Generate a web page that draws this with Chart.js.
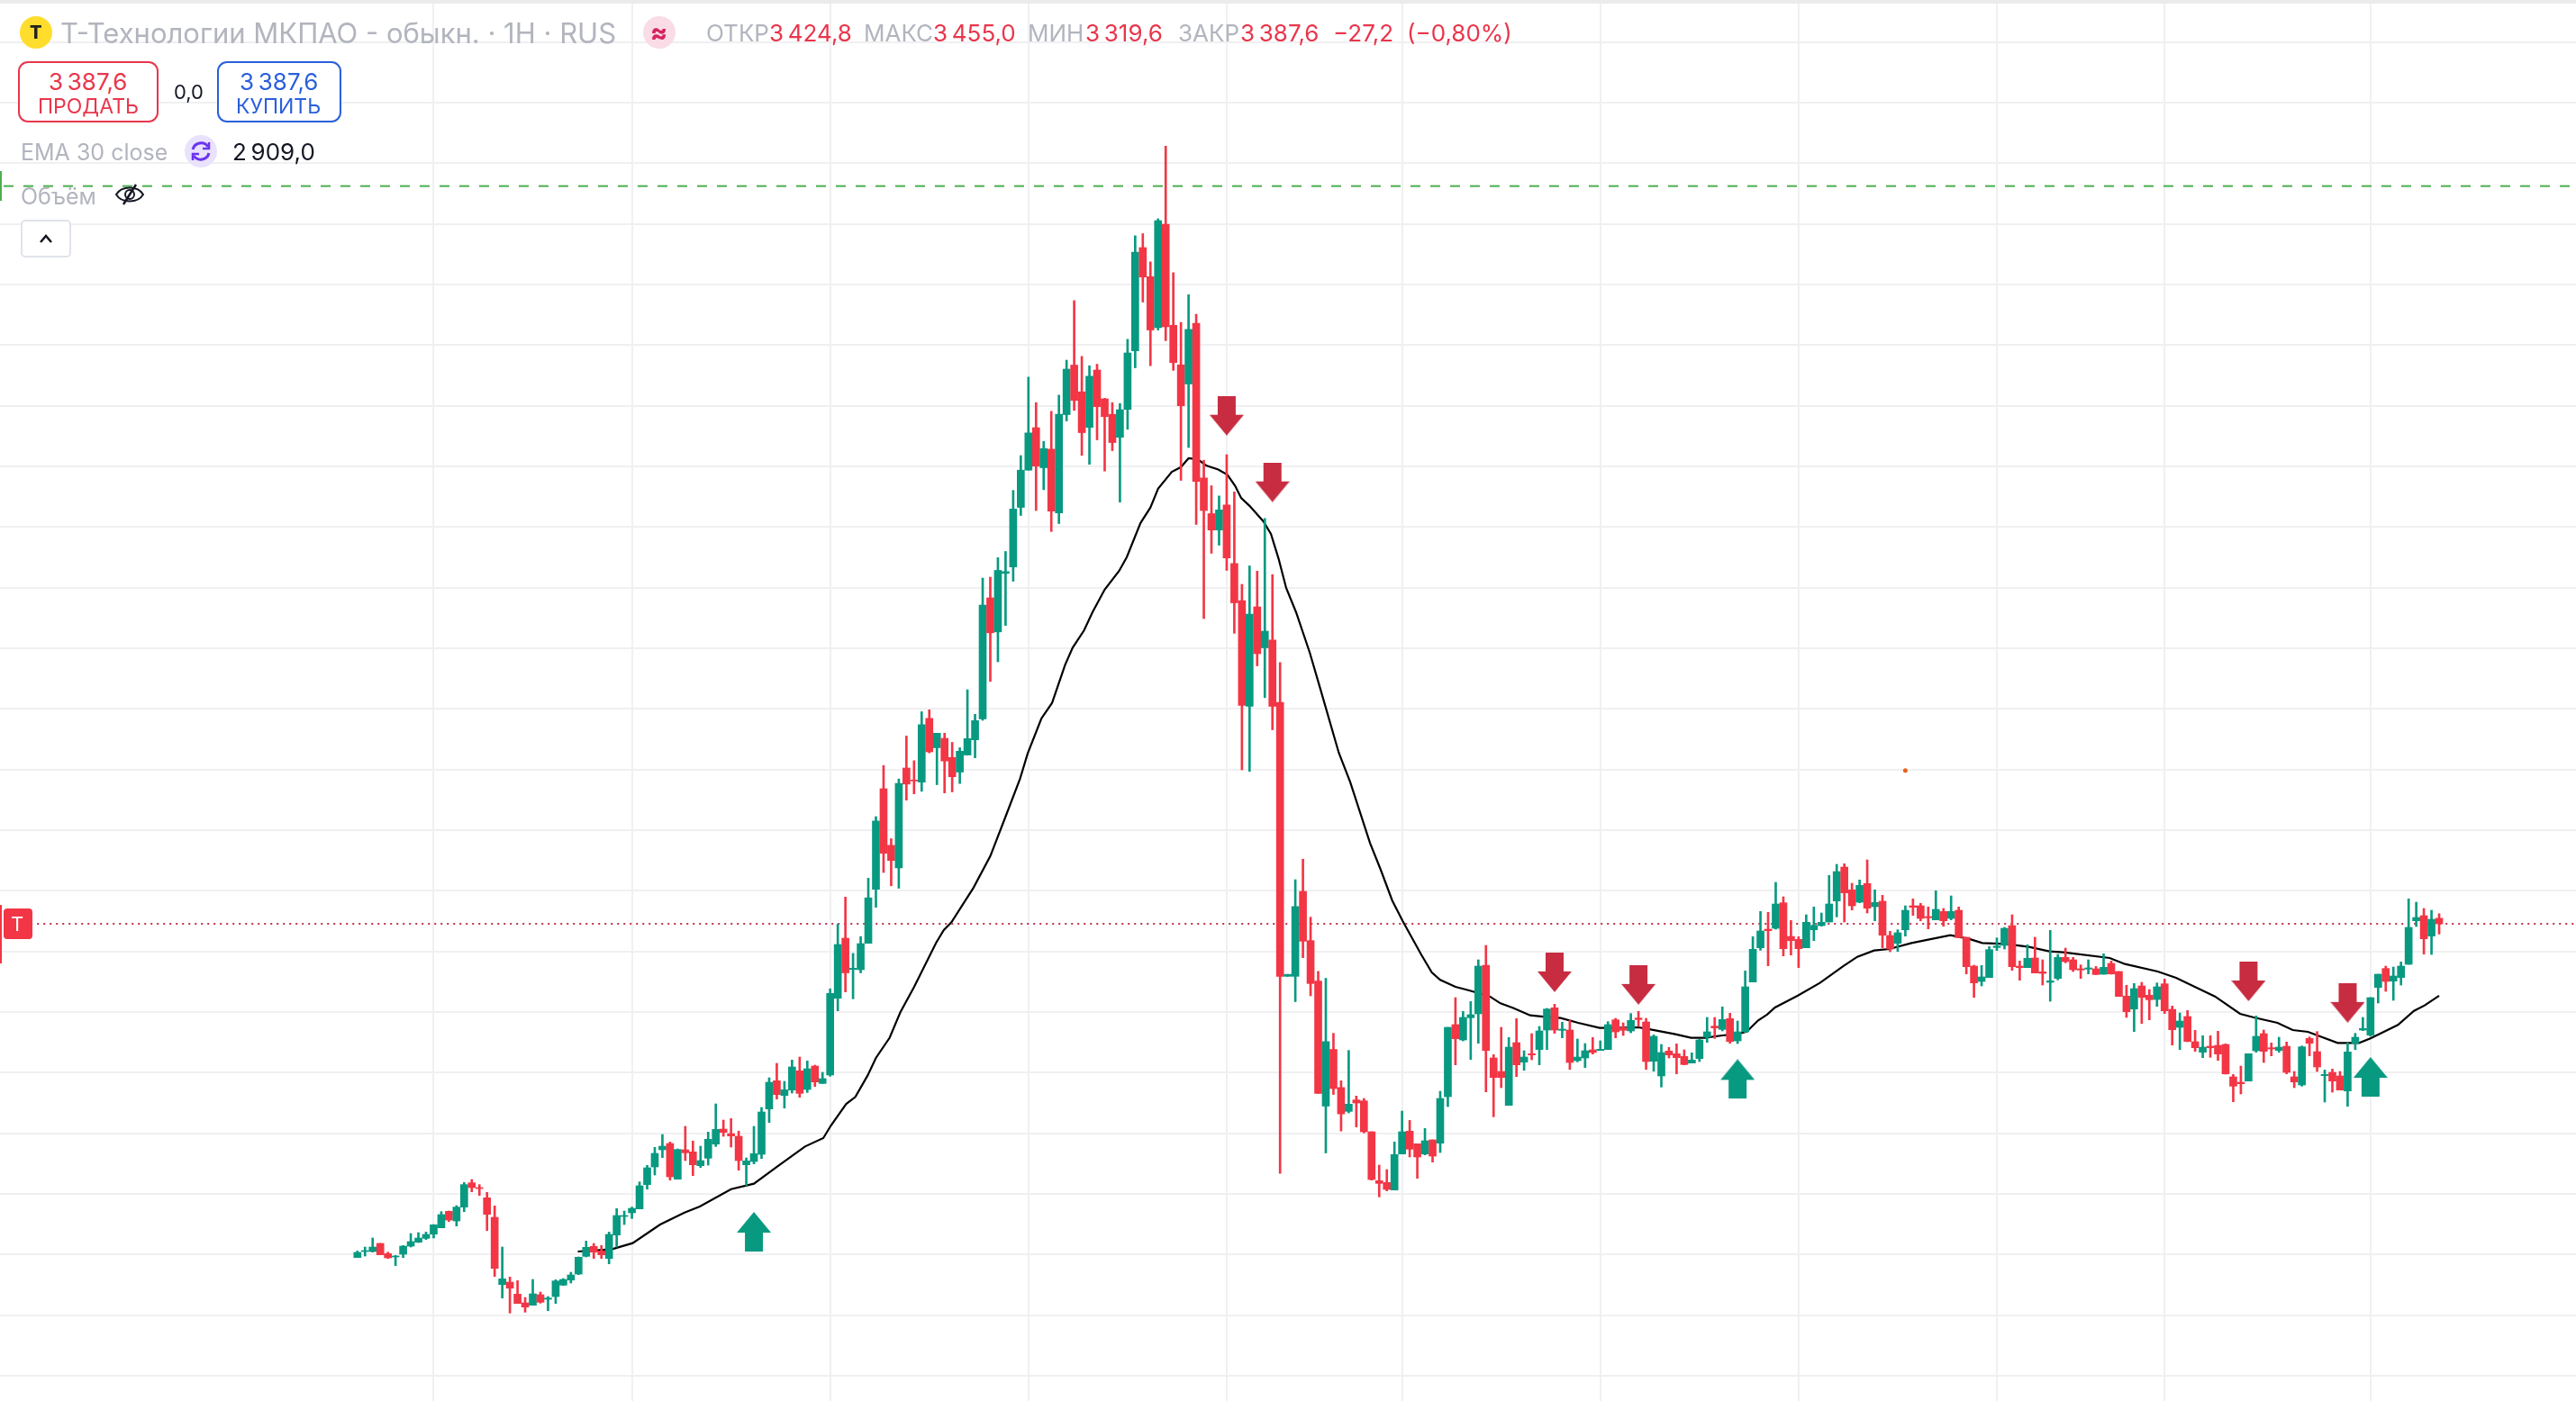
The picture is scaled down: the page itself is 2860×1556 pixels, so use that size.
<!DOCTYPE html>
<html lang="ru">
<head>
<meta charset="utf-8">
<title>Т-Технологии МКПАО</title>
<script src="https://cdn.jsdelivr.net/npm/chart.js@4/dist/chart.umd.min.js"></script>
<style>
  html, body { margin: 0; padding: 0; background: #fff; }
  #page { position: relative; width: 2860px; height: 1556px; overflow: hidden; font-family: Inter, sans-serif; }
  #chart { position: absolute; left: 0; top: 0; }
  #topbar { position: absolute; left: 0; top: 0; width: 2860px; height: 4px; background: #ebebeb; }
  .t { position: absolute; white-space: nowrap; transform: translateY(-50%); font-size: 26px; line-height: 32px; }
  .grey { color: #b2b5be; }
  .red { color: #e8364c; }
  .blue { color: #2a5fdc; }
  .btn { position: absolute; top: 68px; height: 68px; box-sizing: border-box; border-radius: 11px; border: 2px solid; background: #fff; }
  .circle { position: absolute; width: 36px; height: 36px; border-radius: 50%; }
</style>
</head>
<body>
<div id="page">
  <canvas id="chart" width="2860" height="1556"></canvas>
  <div id="topbar"></div>

  <!-- symbol row -->
  <div class="circle" style="left:22px;top:18px;background:#ffdd2d"></div>
  <div class="t" style="left:33px;top:36px;font-size:20px;font-weight:800;color:#222">Т</div>
  <div class="t grey" style="left:67px;top:37px;font-size:31px">Т-Технологии МКПАО - обыкн. · 1H · RUS</div>
  <div class="circle" style="left:714px;top:18px;background:#f9dce6"></div>
  <div class="t" style="left:722px;top:36px;font-size:28px;font-weight:800;color:#d6245f">≈</div>

  <div class="t grey" style="left:784px;top:37px">ОТКР</div>
  <div class="t red" style="left:854px;top:37px">3&thinsp;424,8</div>
  <div class="t grey" style="left:959px;top:37px">МАКС</div>
  <div class="t red" style="left:1036px;top:37px">3&thinsp;455,0</div>
  <div class="t grey" style="left:1141px;top:37px">МИН</div>
  <div class="t red" style="left:1205px;top:37px">3&thinsp;319,6</div>
  <div class="t grey" style="left:1308px;top:37px">ЗАКР</div>
  <div class="t red" style="left:1377px;top:37px">3&thinsp;387,6</div>
  <div class="t red" style="left:1480px;top:37px">−27,2</div>
  <div class="t red" style="left:1562px;top:37px">(−0,80%)</div>

  <!-- order buttons -->
  <div class="btn" style="left:20px;width:156px;border-color:#e8364c"></div>
  <div class="t red" style="left:54px;top:91px">3&thinsp;387,6</div>
  <div class="t red" style="left:42px;top:118px;font-size:23px">ПРОДАТЬ</div>
  <div class="t" style="left:193px;top:102px;font-size:22px;color:#131722">0,0</div>
  <div class="btn" style="left:241px;width:138px;border-color:#2a5fdc"></div>
  <div class="t blue" style="left:266px;top:91px">3&thinsp;387,6</div>
  <div class="t blue" style="left:262px;top:118px;font-size:23px">КУПИТЬ</div>

  <!-- indicator rows -->
  <div class="t grey" style="left:23px;top:169px;font-size:25px">EMA 30 close</div>
  <div class="circle" style="left:205px;top:150px;background:#e9e2fc"></div>
  <svg style="position:absolute;left:209px;top:154px" width="28" height="28" viewBox="0 0 28 28" fill="none" stroke="#6a35ee" stroke-width="3">
    <path d="M5 12 A9.5 9.5 0 0 1 22 9"/><path d="M23 16 A9.5 9.5 0 0 1 6 19"/>
    <path d="M23 4 v7 h-7" stroke-width="2.5"/><path d="M5 24 v-7 h7" stroke-width="2.5"/>
  </svg>
  <div class="t" style="left:258px;top:169px;color:#131722">2&thinsp;909,0</div>

  <div class="t grey" style="left:23px;top:218px;font-size:25px">Объём</div>
  <svg style="position:absolute;left:128px;top:204px" width="32" height="24" viewBox="0 0 32 24" fill="none" stroke="#131722" stroke-width="2">
    <path d="M1 12 C7 2 25 2 31 12 C25 22 7 22 1 12 Z"/><circle cx="16" cy="12" r="5"/><path d="M23 1 L9 23" stroke-width="2.5"/>
  </svg>
  <div style="position:absolute;left:23px;top:244px;width:56px;height:42px;box-sizing:border-box;border:2px solid #e0e3eb;border-radius:5px;background:#fff"></div>
  <svg style="position:absolute;left:43px;top:259px" width="16" height="12" viewBox="0 0 16 12" fill="none" stroke="#131722" stroke-width="2.5">
    <path d="M2 10 L8 3 L14 10"/>
  </svg>

  <!-- scale edge markers -->
  <div style="position:absolute;left:0;top:190px;width:2px;height:33px;background:#4caf50"></div>
  <div style="position:absolute;left:0;top:1005px;width:2px;height:65px;background:#f23645"></div>
  <div style="position:absolute;left:4px;top:1009px;width:32px;height:34px;border-radius:4px;background:#f23645"></div>
  <div class="t" style="left:12px;top:1026px;font-size:22px;color:#fff">T</div>
</div>

<script>
// hourly candles, oldest first
var opens = [
  1164,1204,1204,1258,1190,1168,1186,1240,1266,1292,
  1320,1362,1472,1408,1500,1662,1630,1562,1432,984,
  1000,920,862,846,916,886,904,980,1014,1054,
  1172,1238,1208,1158,1314,1438,1462,1488,1650,1768,
  1882,1924,1686,1882,1868,1776,1826,1920,2020,1990,
  1972,1782,1804,1852,2154,2342,2244,2280,2408,2284,
  2440,2324,2381,2892,3292,3084,3082,3258,3618,4288,
  3911,3761,4426,4346,4332,4757,4561,4624,4496,4399,
  4513,4614,4753,5560,5333,5723,5766,6163,6411,6694,
  6427,6551,6126,6781,7111,6933,6696,7078,6886,6783,
  6630,6816,7206,7894,7700,7361,8049,7376,7113,6985,
  7390,6359,6121,6012,6179,5789,5542,4837,5500,5227,
  5279,4863,3038,3038,3604,3276,3006,2173,2551,2297,
  2138,2214,2208,2002,1676,1664,1614,1854,2006,1922,
  1854,1948,1926,2236,2716,2614,2762,2788,3112,2494,
  2404,2178,2596,2466,2522,2550,2680,2828,2678,2680,
  2476,2494,2548,2544,2550,2748,2696,2674,2760,2734,
  2472,2374,2540,2522,2504,2460,2490,2632,2706,2684,
  2756,2608,2668,3000,3228,3352,3358,3528,3304,3284,
  3228,3348,3376,3400,3540,3766,3614,3532,3656,3502,
  3538,3310,3258,3348,3508,3508,3436,3414,3470,3424,
  3478,3298,3106,3004,3030,3230,3244,3376,3106,3096,
  3160,3068,2998,3024,3164,3148,3088,3086,3088,3052,
  3124,3070,2906,2820,2974,2912,2884,2988,2818,2698,
  2770,2602,2532,2572,2578,2584,2368,2332,2340,2542,
  2656,2562,2544,2572,2368,2314,2624,2536,2376,2398,
  2374,2274,2592,2680,2646,2964,3090,3006,3030,3118,
  3408,3442,3306,3424.8
];
var closes = [
  1198,1210,1234,1182,1162,1174,1240,1270,1294,1318,
  1382,1450,1414,1500,1650,1630,1624,1452,1092,1022,
  960,858,834,922,866,894,1008,1018,1048,1166,
  1232,1200,1182,1318,1444,1444,1492,1642,1762,1858,
  1906,1702,1884,1862,1782,1810,1952,2018,1998,1974,
  1810,1808,1856,2134,2332,2250,2282,2434,2258,2422,
  2334,2356,2924,3250,3061,3092,3256,3561,4073,3858,
  3810,4323,4319,4340,4715,4534,4658,4473,4368,4538,
  4622,4742,5512,5327,5743,5735,6152,6411,6659,6438,
  6555,6138,6783,7084,6876,6661,7037,6834,6768,6595,
  6814,7192,7863,7698,7345,8074,7367,7128,6840,7349,
  6336,6142,6012,6146,5826,5527,4843,5451,5188,5338,
  4837,3038,3051,3503,3272,2990,2258,2603,2290,2121,
  2186,2194,2002,1684,1658,1618,1850,2002,1886,1834,
  1942,1840,2224,2698,2622,2764,2782,3106,2544,2364,
  2364,2566,2448,2500,2514,2674,2820,2680,2686,2464,
  2500,2542,2530,2552,2716,2668,2678,2744,2750,2470,
  2638,2530,2514,2496,2450,2480,2614,2668,2694,2750,
  2604,2668,2968,3218,3340,3342,3520,3222,3276,3222,
  3398,3378,3398,3520,3736,3594,3508,3644,3492,3530,
  3312,3220,3328,3478,3498,3424,3428,3484,3408,3470,
  3296,3102,2994,3034,3216,3240,3358,3102,3096,3158,
  3060,3058,3008,3164,3136,3082,3080,3094,3050,3098,
  3054,2904,2802,2956,2898,2882,2968,2808,2682,2740,
  2604,2562,2566,2562,2520,2388,2306,2322,2522,2638,
  2538,2554,2566,2398,2334,2568,2592,2434,2384,2340,
  2280,2534,2632,2690,2896,3052,3004,3040,3106,3364,
  3430,3288,3418,3387.6
];
var highs = [
  1208,1234,1294,1258,1200,1178,1244,1324,1330,1334,
  1384,1470,1474,1510,1664,1684,1650,1598,1508,1234,
  1034,1010,898,1018,934,904,1016,1024,1066,1168,
  1274,1258,1244,1334,1490,1474,1500,1668,1778,1898,
  1984,1934,1888,2038,1940,1906,2000,2188,2080,2090,
  2006,1828,2038,2164,2362,2458,2338,2480,2500,2474,
  2446,2398,2955,3387,3566,3191,3303,3692,4102,4443,
  3955,4353,4639,4475,4801,4814,4658,4658,4597,4561,
  4948,4784,5692,5698,5828,5869,6276,6508,7031,6861,
  6603,6803,6911,7144,7541,7169,7107,7117,6890,6861,
  6855,7283,7973,7987,7799,8086,8570,7727,7396,7580,
  7450,6477,6307,6239,6514,6266,5650,5773,5738,6089,
  5715,5129,3051,3682,3819,3432,3071,3025,2658,2342,
  2544,2240,2224,2002,1780,1750,1934,2140,2078,1922,
  2024,1948,2272,2698,2896,2804,2870,3148,3244,2516,
  2698,2630,2756,2542,2656,2704,2824,2852,2732,2744,
  2620,2590,2630,2608,2736,2758,2728,2790,2804,2758,
  2648,2584,2564,2588,2548,2528,2618,2764,2764,2834,
  2792,2740,3074,3302,3470,3464,3664,3568,3410,3302,
  3448,3500,3460,3710,3784,3788,3658,3680,3814,3614,
  3578,3338,3348,3508,3554,3524,3500,3608,3490,3574,
  3500,3298,3112,3110,3236,3294,3364,3448,3140,3248,
  3298,3148,3344,3184,3226,3164,3114,3148,3104,3188,
  3140,3070,2978,2990,2998,2950,2994,3020,2840,2794,
  2810,2678,2642,2642,2672,2588,2384,2440,2522,2774,
  2680,2594,2632,2600,2404,2574,2634,2670,2414,2420,
  2404,2594,2658,2764,2896,3052,3106,3100,3134,3554,
  3532,3490,3478,3455
];
var lows = [
  1164,1174,1200,1182,1158,1110,1164,1234,1264,1284,
  1294,1362,1404,1374,1470,1602,1578,1344,1038,894,
  794,858,800,846,860,810,858,978,994,1050,
  1168,1158,1158,1122,1234,1384,1424,1488,1620,1714,
  1830,1680,1686,1810,1710,1764,1780,1904,1972,1900,
  1746,1644,1788,1824,2064,2220,2160,2260,2232,2264,
  2304,2324,2372,2808,2934,2888,3061,3258,3498,3730,
  3641,3625,4212,4254,4271,4527,4315,4260,4267,4323,
  4513,4494,4744,5003,5134,5376,5671,6109,6411,6142,
  6281,6002,6055,6739,6809,6510,6450,6613,6405,6541,
  6198,6683,7093,7531,7107,7345,7274,7076,6343,6562,
  6049,5422,5857,5911,5743,5324,4414,4404,5107,4895,
  4681,1725,3038,2869,3162,2908,2258,1861,2251,2007,
  2128,2034,1994,1680,1568,1608,1614,1854,1834,1692,
  1848,1800,1864,2170,2448,2608,2484,2592,2268,2102,
  2296,2178,2370,2412,2482,2448,2550,2658,2628,2418,
  2468,2430,2520,2544,2550,2628,2644,2662,2704,2418,
  2406,2300,2494,2388,2448,2460,2470,2598,2624,2674,
  2592,2590,2664,3000,3212,3108,3352,3174,3180,3096,
  3228,3276,3372,3400,3434,3400,3480,3528,3460,3408,
  3228,3202,3204,3306,3444,3408,3354,3414,3372,3414,
  3294,3054,2898,2974,3030,3210,3220,3078,3012,3096,
  3060,2980,2872,3014,3128,3070,3024,3054,3048,3052,
  3052,2904,2764,2670,2724,2748,2838,2790,2580,2550,
  2602,2538,2496,2498,2478,2386,2202,2254,2340,2532,
  2464,2508,2532,2388,2296,2306,2508,2404,2200,2266,
  2280,2172,2550,2676,2638,2860,2938,2878,2980,3118,
  3370,3186,3184,3319.6
];

// EMA 30 vertices, position in candles and price
var emaPositions = [
  28.9,33.4,36.1,39.7,42.9,44.9,49,52,55.1,58.7,61.1,62.1,64.1,65.3,66.9,68,69.8,71.2,73,75.9,
  76.9,77.9,80.8,83,85,86.9,87.9,89.7,91.1,92.8,93.8,95.3,96.4,98,99.9,100.9,102.7,104,105,106.8,
  108,109,110.2,111.3,112.9,114.1,115.1,115.9,117,118.8,119.8,120.8,121.8,123.1,124.9,126.3,128.7,130.2,132.8,134.2,
  135.7,137.1,139.5,140.9,142,144,145.8,148.5,149.9,151.5,153.8,155.8,157.8,160.1,162.9,164.5,168,169.6,172.7,174.9,
  176.7,179,181,182.2,183.7,184.9,185.9,188.9,191.8,194.8,196.7,198.9,200.9,203.8,208.9,211.3,213.1,216.2,219.2,221.9,
  223.7,229.8,231.8,236.1,238.5,243.6,246.9,248.7,251.8,253.8,255.8,259.7,262.5,264,267.6,269.7,271.1,273
];
var emaValues = [
  1204,1220,1260,1384,1464,1504,1620,1656,1772,1904,1960,2044,2188,2234,2376,2494,2629,2798,2966,3262,
  3346,3398,3629,3839,4102,4355,4523,4756,4860,5112,5228,5344,5464,5615,5740,5832,6059,6162,6287,6400,
  6431,6490,6483,6442,6415,6380,6307,6225,6173,6070,5987,5822,5626,5464,5194,4950,4528,4332,3926,3748,
  3544,3404,3184,3064,3014,2968,2944,2904,2858,2828,2778,2768,2760,2728,2694,2694,2698,2684,2654,2628,
  2628,2644,2654,2670,2744,2784,2830,2910,2994,3104,3168,3210,3220,3260,3312,3288,3260,3254,3234,3204,
  3198,3160,3120,3070,3028,2904,2788,2764,2728,2680,2668,2594,2594,2624,2714,2808,2844,2909
];

// trade signals
var buyCandles = [52, 181, 264];
var buyPrices = [1336, 2354, 2368];
var sellCandles = [114, 120, 157, 168, 248, 261];
var sellPrices = [6774, 6330, 3065, 2981, 3004, 2861];

var lastPrice = 3387.6;
var alertPrice = 8304;
var strayMark = { candle: 203, price: 4410 };

// grid positions, the candles and prices the chart rules sit on
var gridCandles = [10, 36, 62, 88, 114, 137, 163, 189, 215, 237, 264];
var gridPrices = [9264,8860,8456,8052,7648,7244,6840,6436,6032,5628,5224,4820,4416,4012,3608,3204,2800,2396,1992,1588,1184,780,376];

var upColor = '#089981';
var downColor = '#f23645';

function arrowIcon(color, pointsUp) {
  var c = document.createElement('canvas');
  c.width = 38;
  c.height = 44;
  var g = c.getContext('2d');
  if (pointsUp) {
    g.translate(0, 44);
    g.scale(1, -1);
  }
  g.fillStyle = color;
  g.beginPath();
  g.moveTo(9, 0);
  g.lineTo(29, 0);
  g.lineTo(29, 21);
  g.lineTo(38, 21);
  g.lineTo(19, 44);
  g.lineTo(0, 21);
  g.lineTo(9, 21);
  g.closePath();
  g.fill();
  return c;
}

function toXY(xs, ys) {
  return xs.map(function (x, i) { return { x: x, y: ys[i] }; });
}

var candleColors = closes.map(function (c, i) { return c >= opens[i] ? upColor : downColor; });
var wicks = closes.map(function (c, i) { return { x: i, y: [lows[i], highs[i]] }; });
var bodies = closes.map(function (c, i) { return { x: i, y: [opens[i], c] }; });

var ctx = document.getElementById('chart').getContext('2d');
var chart = new Chart(ctx, {
  type: 'bar',
  data: {
    datasets: [
      { label: 'Тело', data: bodies, backgroundColor: candleColors, barThickness: 8, grouped: false, borderWidth: 0, order: 2 },
      { label: 'Тень', data: wicks, backgroundColor: candleColors, barThickness: 2, grouped: false, borderWidth: 0, order: 3 },
      { type: 'line', label: 'EMA 30', data: toXY(emaPositions, emaValues), borderColor: '#000', borderWidth: 2.2, pointRadius: 0, tension: 0, order: 6 },
      { type: 'line', label: 'Цена', data: [{ x: -42, y: lastPrice }, { x: 291, y: lastPrice }], borderColor: '#c2314f', borderWidth: 2, borderDash: [2, 5], pointRadius: 0, order: 5 },
      { type: 'line', label: 'Алерт', data: [{ x: -46.4, y: alertPrice }, { x: 291, y: alertPrice }], borderColor: '#4caf50', borderWidth: 2, borderDash: [11, 11], pointRadius: 0, order: 4 },
      { type: 'scatter', label: 'Покупка', data: toXY(buyCandles, buyPrices), pointStyle: arrowIcon('#089981', true), pointRadius: 20, order: 1 },
      { type: 'scatter', label: 'Продажа', data: toXY(sellCandles, sellPrices), pointStyle: arrowIcon('#c72c41', false), pointRadius: 20, order: 1 },
      { type: 'scatter', label: 'Метка', data: [{ x: strayMark.candle, y: strayMark.price }], backgroundColor: '#e8601c', borderWidth: 0, pointRadius: 2.5, order: 1 }
    ]
  },
  options: {
    responsive: false,
    devicePixelRatio: 1,
    animation: false,
    layout: { padding: 0, autoPadding: false },
    plugins: { legend: { display: false }, tooltip: { enabled: false } },
    scales: {
      x: {
        type: 'linear',
        offset: false,
        min: -46.87,
        max: 290.95,
        grid: { color: '#f0f0f2', lineWidth: 2, drawTicks: false, offset: false },
        border: { display: false },
        ticks: { display: false, autoSkip: false },
        afterBuildTicks: function (axis) {
          axis.ticks = gridCandles.map(function (v) { return { value: v }; });
        }
      },
      y: {
        min: 208,
        max: 9544,
        grid: { color: '#f0f0f2', lineWidth: 2, drawTicks: false },
        border: { display: false },
        ticks: { display: false, autoSkip: false },
        afterBuildTicks: function (axis) {
          axis.ticks = gridPrices.map(function (v) { return { value: v }; });
        }
      }
    }
  }
});
</script>
</body>
</html>
